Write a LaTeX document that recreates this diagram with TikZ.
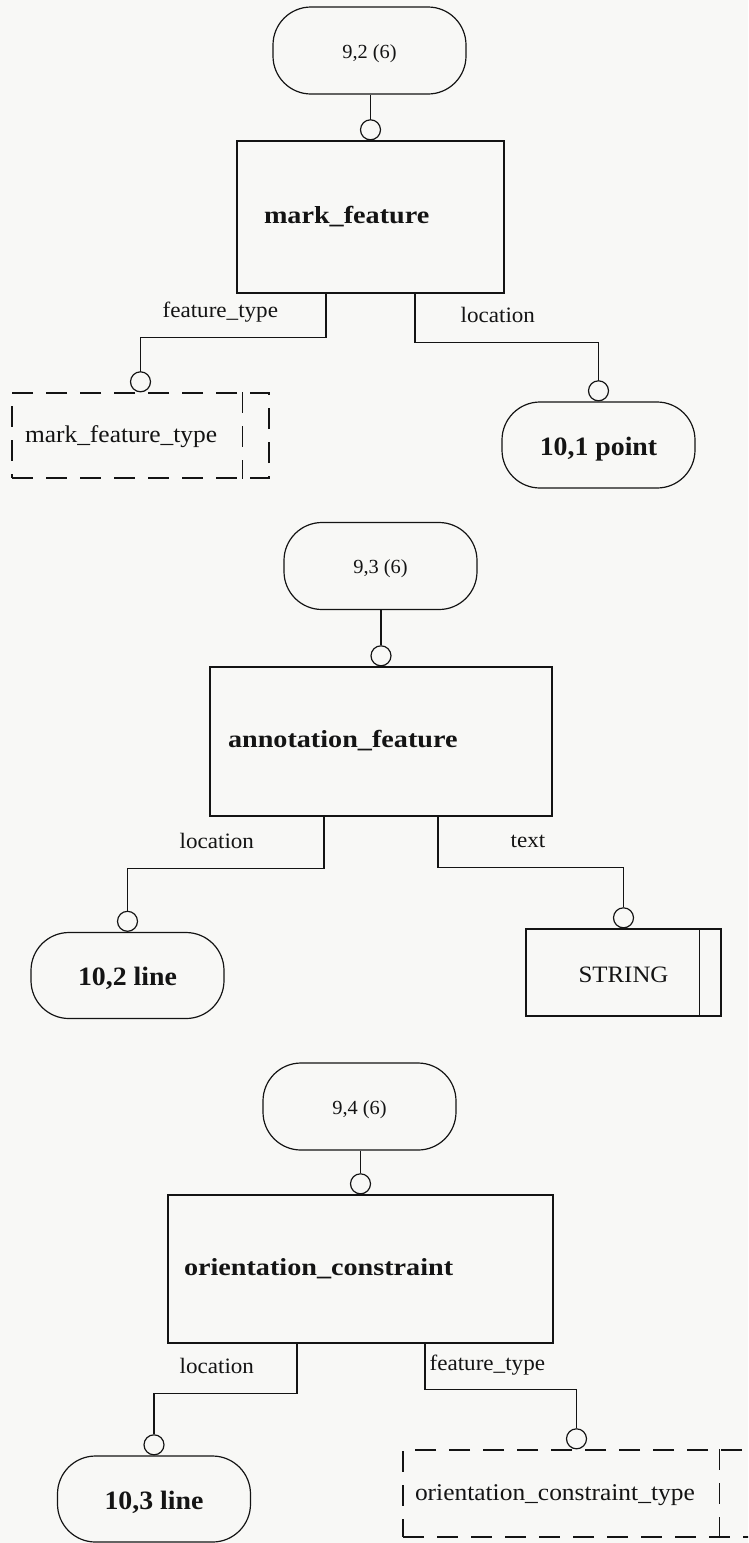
\documentclass[tikz,border=0pt]{standalone}
\usepackage{fontspec}
\setmainfont{Liberation Serif}
\newfontfamily\reffont{Liberation Serif}[FakeStretch=1.02]
\newfontfamily\lblfont{Liberation Serif}[FakeStretch=1.05]
\newfontfamily\typfont{Liberation Serif}[FakeStretch=1.06]
\newfontfamily\entfont{Liberation Serif}[FakeStretch=1.15]
\newfontfamily\tgtfont{Liberation Serif}[FakeStretch=1.05]
\definecolor{paper}{RGB}{248,248,246}
\definecolor{ink}{RGB}{20,20,20}

\begin{document}
\begin{tikzpicture}[x=1pt, y=-1pt, line width=1.2pt, draw=ink, text=ink,
  refnode/.style={draw, rectangle, rounded corners=38pt, minimum width=193pt,
    minimum height=87pt, inner sep=0pt, text height=15pt, text depth=0pt,
    font=\reffont\fontsize{20}{23}\selectfont},
  tgtnode/.style={draw, rectangle, rounded corners=38pt, minimum width=193pt,
    minimum height=86pt, inner sep=0pt, text height=20pt, text depth=0pt,
    font=\tgtfont\bfseries\fontsize{26.5}{30}\selectfont},
  entnode/.style={draw, rectangle, align=left, inner ysep=0pt,
    text height=12pt, text depth=0pt,
    font=\entfont\bfseries\fontsize{24.5}{28}\selectfont},
  dashline/.style={dash pattern=on 21pt off 13pt},
  typnode/.style={draw, rectangle, dashline, align=left, inner ysep=0pt,
    text height=14pt, text depth=0pt,
    font=\typfont\fontsize{24}{27}\selectfont},
  strnode/.style={draw, rectangle, inner sep=0pt, minimum width=195pt,
    minimum height=87pt, text height=19pt, text depth=0pt,
    font=\typfont\fontsize{23.5}{27}\selectfont},
  circ/.style={draw, circle, minimum size=20pt, inner sep=0pt, anchor=south},
  lbl/.style={inner sep=0pt, anchor=base west,
    font=\lblfont\fontsize{22}{25}\selectfont}]

\useasboundingbox (0,0) rectangle (748,1543);
\fill[paper] (0,0) rectangle (748,1543);
\clip (0,0) rectangle (748,1543);

% ---------- mark_feature ----------
\node[refnode] (n92) at (369.5,50.5) {9,2 (6)};
\node[entnode, minimum width=267pt, minimum height=152pt,
      inner xsep=27pt, text width=213pt] (mf) at (370.5,217) {mark\_feature};
\node[circ] (c92) at (mf.north) {};
\draw (c92.north) -- (c92.north |- n92.south);

\node[typnode, minimum width=257pt, minimum height=85pt,
      inner xsep=13pt, text width=231pt] (mft) at (140.5,435.5) {mark\_feature\_type};
\draw[dashline] ([xshift=-27pt]mft.north east) -- ([xshift=-27pt]mft.south east);
\node[tgtnode] (p101) at (598.5,445) {10,1 point};

\node[circ] (cmft) at (mft.north) {};
\node[circ] (cp101) at (p101.north) {};
\coordinate (mfL) at ([xshift=-44.5pt]mf.south);
\coordinate (mfR) at ([xshift=44.5pt]mf.south);
\draw (mfL) -- ++(0,44) -| (cmft.north);
\draw (mfR) -- ++(0,49) -| (cp101.north);
\node[lbl] (l1a) at (162,317) {feature\_type};
\node[lbl] (l1b) at (460,322) {location};

% ---------- annotation_feature ----------
\node[refnode] (n93) at (380.5,566) {9,3 (6)};
\node[entnode, minimum width=342pt, minimum height=149pt,
      inner xsep=18pt, text width=306pt] (af) at (381,741.5) {annotation\_feature};
\node[circ] (c93) at (af.north) {};
\draw (c93.north) -- (c93.north |- n93.south);

\node[tgtnode] (l102) at (127.5,975.5) {10,2 line};
\node[strnode] (str) at (623.5,972.5) {STRING};
\draw ([xshift=-22pt]str.north east) -- ([xshift=-22pt]str.south east);

\node[circ] (cl102) at (l102.north) {};
\node[circ] (cstr) at (str.north) {};
\coordinate (afL) at ([xshift=-57pt]af.south);
\coordinate (afR) at ([xshift=57pt]af.south);
\draw (afL) -- ++(0,52) -| (cl102.north);
\draw (afR) -- ++(0,51) -| (cstr.north);
\node[lbl] (l2a) at (179,848) {location};
\node[lbl] (l2b) at (510,847) {text};

% ---------- orientation_constraint ----------
\node[refnode] (n94) at (359.5,1106.5) {9,4 (6)};
\node[entnode, minimum width=385pt, minimum height=148pt,
      inner xsep=16pt, text width=353pt] (oc) at (360.5,1269) {orientation\_constraint};
\node[circ] (c94) at (oc.north) {};
\draw (c94.north) -- (c94.north |- n94.south);

\node[tgtnode] (l103) at (154,1499) {10,3 line};
\node[typnode, minimum width=347pt, minimum height=87pt,
      inner xsep=12pt, text width=323pt] (oct) at (576.5,1493.5) {orientation\_constraint\_type};
\draw[dashline] ([xshift=-31pt]oct.north east) -- ([xshift=-31pt]oct.south east);

\node[circ] (cl103) at (l103.north) {};
\node[circ] (coct) at (oct.north) {};
\coordinate (ocL) at ([xshift=-63.5pt]oc.south);
\coordinate (ocR) at ([xshift=64.5pt]oc.south);
\draw (ocL) -- ++(0,50) -| (cl103.north);
\draw (ocR) -- ++(0,46) -| (coct.north);
\node[lbl] (l3a) at (179,1373) {location};
\node[lbl] (l3b) at (429,1370) {feature\_type};
\end{tikzpicture}
\end{document}
